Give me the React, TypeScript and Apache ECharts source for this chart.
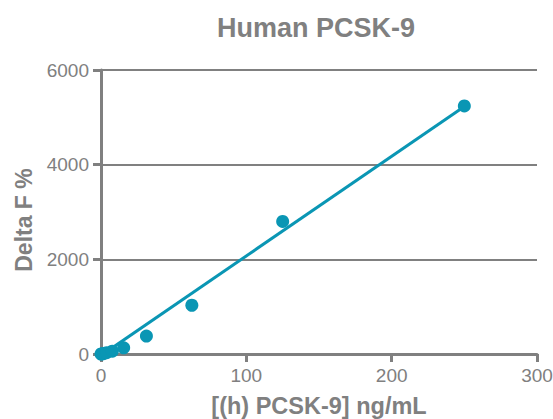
import React, { useEffect, useRef } from "react";
import * as echarts from "echarts";

const concentrations = [0, 0.98, 1.95, 3.9, 7.8, 15.6, 31.25, 62.5, 125, 250];
const deltaF = [0, 5, 12, 28, 60, 130, 380, 1030, 2800, 5240];
const fitX = [0, 250];
const fitY = [-34, 5230];
const xTicks = [0, 100, 200, 300];
const yTicks = [0, 2000, 4000, 6000];

const GRAY = "#808080";
const TEAL = "#0a96b4";
const FONT = "'Liberation Sans', Arial, sans-serif";

export default function App() {
  const ref = useRef<HTMLDivElement>(null);
  useEffect(() => {
    if (!ref.current) return;
    const chart = echarts.init(ref.current, undefined, { renderer: "svg" });
    chart.setOption({
      animation: false,
      title: {
        text: "Human PCSK-9",
        left: 311,
        top: 9,
        textAlign: "center",
        textStyle: { color: GRAY, fontSize: 27, fontWeight: "bold", fontFamily: FONT },
      },
      grid: { left: 101, right: 16, top: 70, bottom: 65, outerBoundsMode: "none", containLabel: false },
      xAxis: {
        type: "value",
        min: xTicks[0],
        max: xTicks[xTicks.length - 1],
        interval: 100,
        name: "[(h) PCSK-9] ng/mL",
        nameLocation: "middle",
        nameGap: 40,
        nameTextStyle: { color: GRAY, fontSize: 23.5, fontWeight: "bold", fontFamily: FONT },
        axisLine: { lineStyle: { color: GRAY, width: 3 } },
        axisTick: { show: true, length: 8, lineStyle: { color: GRAY, width: 3 } },
        axisLabel: { color: GRAY, fontSize: 19, fontFamily: FONT, margin: 12, formatter: (v: number) => String(v) },
        splitLine: { show: false },
      },
      yAxis: {
        type: "value",
        min: yTicks[0],
        max: yTicks[yTicks.length - 1],
        interval: 2000,
        name: "Delta F %",
        nameLocation: "middle",
        nameGap: 66,
        nameTextStyle: { color: GRAY, fontSize: 23, fontWeight: "bold", fontFamily: FONT, padding: [0, 16, 0, 0] },
        axisLine: { show: true, lineStyle: { color: GRAY, width: 3 } },
        axisTick: { show: true, length: 8, lineStyle: { color: GRAY, width: 3 } },
        axisLabel: { color: GRAY, fontSize: 19, fontFamily: FONT, margin: 12, formatter: (v: number) => String(v) },
        splitLine: { show: true, lineStyle: { color: GRAY, width: 2 } },
      },
      series: [
        {
          type: "line",
          data: fitX.map((x, i) => [x, fitY[i]]),
          showSymbol: false,
          symbol: "none",
          lineStyle: { color: TEAL, width: 3 },
          z: 3,
        },
        {
          type: "scatter",
          data: concentrations.map((x, i) => [x, deltaF[i]]),
          symbolSize: 13,
          itemStyle: { color: TEAL, opacity: 1 },
          z: 4,
        },
      ],
    });
    return () => chart.dispose();
  }, []);
  return <div ref={ref} style={{ width: 553, height: 419, position: "absolute", left: 0, top: 0 }} />;
}
